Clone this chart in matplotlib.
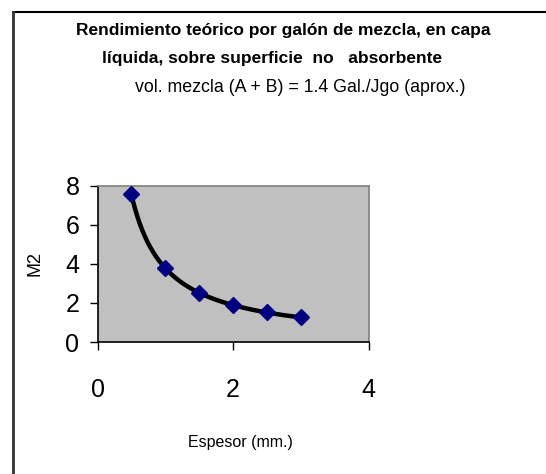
import numpy as np
import matplotlib
matplotlib.use('Agg')
import matplotlib.pyplot as plt
from matplotlib.lines import Line2D
from matplotlib import font_manager

# Data
espesor = [0.5, 1.0, 1.5, 2.0, 2.5, 3.0]
m2 = [7.56, 3.78, 2.52, 1.89, 1.51, 1.26]
x_ticks = [0, 2, 4]
y_ticks = [0, 2, 4, 6, 8]

title_1 = 'Rendimiento teórico por galón de mezcla, en capa'
title_2 = 'líquida, sobre superficie  no   absorbente'
subtitle = 'vol. mezcla (A + B) = 1.4 Gal./Jgo (aprox.)'

names = {f.name for f in font_manager.fontManager.ttflist}
narrow = 'Liberation Sans Narrow' if 'Liberation Sans Narrow' in names else 'Liberation Sans'


def smooth(xs, ys, n=40):
    # smoothed line: Catmull-Rom bezier through the points, done in log-log space
    lx = np.log(np.asarray(xs, float))
    ly = np.log(np.asarray(ys, float))
    px = np.concatenate([[2 * lx[0] - lx[1]], lx, [2 * lx[-1] - lx[-2]]])
    py = np.concatenate([[2 * ly[0] - ly[1]], ly, [2 * ly[-1] - ly[-2]]])
    out_x, out_y = [], []
    t = np.linspace(0, 1, n)
    for i in range(1, len(px) - 2):
        p0, p1, p2, p3 = [np.array([px[j], py[j]]) for j in (i - 1, i, i + 1, i + 2)]
        c1 = p1 + (p2 - p0) / 6
        c2 = p2 - (p3 - p1) / 6
        pts = ((1 - t) ** 3)[:, None] * p1 + (3 * (1 - t) ** 2 * t)[:, None] * c1 \
            + (3 * (1 - t) * t ** 2)[:, None] * c2 + (t ** 3)[:, None] * p2
        out_x.extend(np.exp(pts[:, 0]))
        out_y.extend(np.exp(pts[:, 1]))
    return out_x, out_y


fig = plt.figure(figsize=(5.46, 4.74), dpi=100)
ax = fig.add_axes([97.5 / 546, 1 - 342 / 474, 271 / 546, 156.3 / 474])
ax.set_facecolor('#C0C0C0')

sx, sy = smooth(espesor, m2)
ax.plot(sx, sy, color='black', lw=3.2, solid_capstyle='round', zorder=2)
ax.plot(espesor, m2, linestyle='none', marker='D', markersize=8,
        color='#000080', zorder=3)

ax.set_xlim(0, 4)
ax.set_ylim(0, 8)
ax.set_xticks(x_ticks)
ax.set_yticks(y_ticks)
ax.tick_params(axis='both', direction='out', length=6, width=1, colors='black',
               labelsize=18)
ax.tick_params(axis='x', pad=20)
ax.tick_params(axis='y', pad=7)
for lab in ax.get_xticklabels() + ax.get_yticklabels():
    lab.set_family('Liberation Sans')

ax.spines['left'].set_color('black')
ax.spines['bottom'].set_color('black')
ax.spines['top'].set_color('#808080')
ax.spines['right'].set_color('#808080')
for s in ax.spines.values():
    s.set_linewidth(1.2)

ax.set_ylabel('M2', family='Liberation Sans', fontsize=13, labelpad=2)
ax.yaxis.set_label_coords(-0.2, 0.5)

fig.text(240 / 546, 1 - 443 / 474, 'Espesor (mm.)', family=narrow, fontsize=11.5,
         ha='center', va='center')

fig.text(283 / 546, 1 - 31 / 474, title_1, family=narrow, fontweight='bold',
         fontsize=12.5, ha='center', va='center')
fig.text(272 / 546, 1 - 58 / 474, title_2, family=narrow, fontweight='bold',
         fontsize=12.5, ha='center', va='center')
fig.text(300 / 546, 1 - 88 / 474, subtitle, family=narrow,
         fontsize=12.8, ha='center', va='center')

# outer chart border (only top and left edges visible)
fig.add_artist(Line2D([13 / 546, 1], [1 - 12 / 474, 1 - 12 / 474],
                      transform=fig.transFigure, color='black', lw=1.5))
fig.add_artist(Line2D([13 / 546, 13 / 546], [0, 1 - 12 / 474],
                      transform=fig.transFigure, color='#333333', lw=2))

fig.savefig('out.png', dpi=100)
